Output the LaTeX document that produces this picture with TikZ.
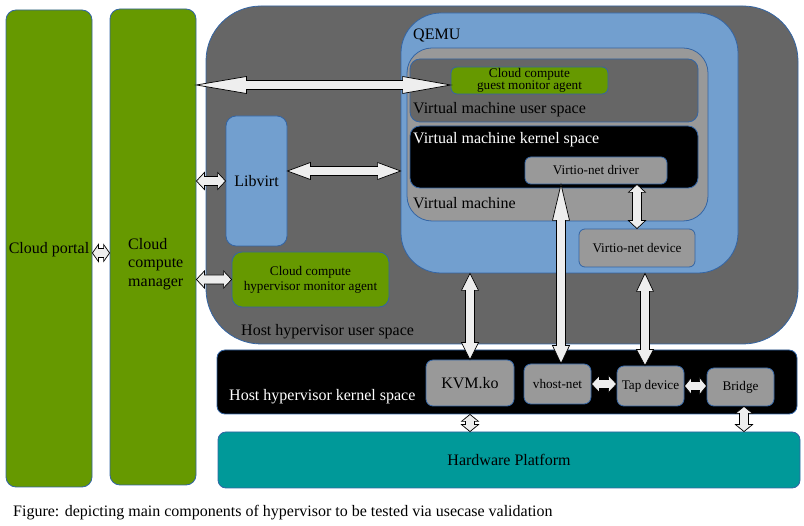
\documentclass[tikz,border=0pt]{standalone}
\usepackage{fontspec}
\setmainfont{Liberation Serif}
\usetikzlibrary{calc}

\definecolor{leaf}{HTML}{669900}
\definecolor{edgeblue}{HTML}{3465A4}
\definecolor{darkgrey}{HTML}{666666}
\definecolor{midgrey}{HTML}{999999}
\definecolor{skyblue}{HTML}{729FCF}
\definecolor{hwteal}{HTML}{009999}
\definecolor{arrowfill}{HTML}{EEEEEE}

% block arrow with two heads: from, to, head length at from, head length at to
\newcommand\dblarrow[4]{%
    \draw[blockarrow] (#1)
        -- ($($(#1)!#3pt!(#2)$)!8.5pt!90:(#2)$)
        -- ($($(#1)!#3pt!(#2)$)!4.5pt!90:(#2)$)
        -- ($($(#2)!#4pt!(#1)$)!4.5pt!-90:(#1)$)
        -- ($($(#2)!#4pt!(#1)$)!8.5pt!-90:(#1)$)
        -- (#2)
        -- ($($(#2)!#4pt!(#1)$)!8.5pt!90:(#1)$)
        -- ($($(#2)!#4pt!(#1)$)!4.5pt!90:(#1)$)
        -- ($($(#1)!#3pt!(#2)$)!4.5pt!-90:(#2)$)
        -- ($($(#1)!#3pt!(#2)$)!8.5pt!-90:(#2)$)
        -- cycle;}

\begin{document}
\begin{tikzpicture}[x=1pt, y=-1pt,
    box/.style={draw=edgeblue, line width=0.8pt, rounded corners=#1, inner sep=0pt},
    box/.default=10pt,
    lbl/.style={font=\fontsize{16}{18.5}\selectfont, inner sep=0pt},
    small/.style={font=\fontsize{13.2}{15}\selectfont, inner sep=0pt, align=center},
    blockarrow/.style={draw=black, fill=arrowfill, line width=0.7pt, line join=miter}]
    \useasboundingbox (0,0) rectangle (804,526);

    % cloud side
    \node[box, fill=leaf, minimum width=86, minimum height=477] (portal) at (49,248.5) {};
    \node[box, fill=leaf, minimum width=86, minimum height=476] (manager) at (153,247) {};

    % host user space
    \node[box=55pt, fill=darkgrey, minimum width=592, minimum height=338] (hostuser) at (502,175) {};
    \node[box=40pt, fill=skyblue, minimum width=337, minimum height=260] (qemu) at (569.5,143) {};
    \node[box=25pt, fill=midgrey, minimum width=301, minimum height=173] (vm) at (557.5,134.5) {};
    \node[box, fill=darkgrey, minimum width=288, minimum height=63] (vmuser) at (554,90.5) {};
    \node[box, fill=black, minimum width=288, minimum height=62] (vmkernel) at (554,157) {};
    \node[box=6pt, fill=leaf, small, font=\fontsize{13.2}{12}\selectfont, minimum width=157, minimum height=27] (gagent) at (529.5,80.5) {Cloud compute\\guest monitor agent};
    \node[box=6pt, fill=midgrey, small, minimum width=142, minimum height=27] (driver) at (596,170.5) {Virtio-net driver};
    \node[box=6pt, fill=midgrey, small, minimum width=116, minimum height=38] (device) at (637,248) {Virtio-net device};
    \node[box, fill=skyblue, lbl, minimum width=61, minimum height=130] (libvirt) at (256.5,181) {Libvirt};
    \node[box, fill=leaf, small, minimum width=157, minimum height=55] (hagent) at (310.5,279.5) {Cloud compute\\hypervisor monitor agent};

    % host kernel space and hardware
    \node[box=8pt, fill=black, minimum width=580, minimum height=64] (hostkernel) at (507,382) {};
    \node[box=7pt, fill=midgrey, lbl, minimum width=88, minimum height=46] (kvm) at (470,383) {KVM.ko};
    \node[box=7pt, fill=midgrey, small, minimum width=67, minimum height=40] (vhost) at (557.5,384) {vhost-net};
    \node[box=7pt, fill=midgrey, small, minimum width=67, minimum height=40] (tap) at (650.5,386) {Tap device};
    \node[box=7pt, fill=midgrey, small, minimum width=67, minimum height=38] (bridge) at (740.5,387) {Bridge};
    \node[box=8pt, fill=hwteal, lbl, minimum width=582, minimum height=56] (hardware) at (509,460) {Hardware Platform};

    % labels
    \node[lbl, anchor=base] (portallbl) at (49,254) {Cloud portal};
    \node[lbl, anchor=west, align=left] (managerlbl) at (128,264) {Cloud\\compute\\manager};
    \node[lbl, anchor=base west] (qemulbl) at (413,40) {QEMU};
    \node[lbl, anchor=base west] (vmuserlbl) at (413,114) {Virtual machine user space};
    \node[lbl, anchor=base west, text=white] (vmkernellbl) at (413,144) {Virtual machine kernel space};
    \node[lbl, anchor=base west] (vmlbl) at (413,209) {Virtual machine};
    \node[lbl, anchor=base west] (hostuserlbl) at (241,336) {Host hypervisor user space};
    \node[lbl, anchor=base west, text=white] (hostkernellbl) at (229,401) {Host hypervisor kernel space};
    \node[lbl, anchor=base west] (caption) at (13,517) {Figure: depicting main components of hypervisor to be tested via usecase validation};

    % arrow ends
    \coordinate (bigR) at ([yshift=-4.5pt]gagent.west);
    \coordinate (lvR) at ([yshift=10pt]libvirt.east);
    \coordinate (portalR) at ([yshift=-4.5pt]portal.east);
    \coordinate (vhostT) at ([xshift=3.5pt]vhost.north);
    \coordinate (tapT) at ([xshift=-5.5pt]tap.north);
    \coordinate (bridgeB) at ([xshift=3.5pt]bridge.south);

    \dblarrow{manager.east |- bigR}{bigR}{50}{48}
    \dblarrow{lvR}{qemu.west |- lvR}{23}{23}
    \dblarrow{manager.east |- libvirt.west}{libvirt.west}{8}{8}
    \dblarrow{portalR}{manager.west |- portalR}{6}{6}
    \dblarrow{manager.east |- hagent.west}{hagent.west}{8}{8}
    \dblarrow{kvm.north |- qemu.south}{kvm.north}{17}{17}
    \dblarrow{driver.south -| vhostT}{vhostT}{36}{18}
    \dblarrow{device.north |- driver.south}{device.north}{8}{8}
    \dblarrow{qemu.south -| tapT}{tapT}{18}{16}
    \dblarrow{vhost.east}{tap.west |- vhost.east}{8}{8}
    \dblarrow{tap.east}{bridge.west |- tap.east}{7}{7}
    \dblarrow{hostkernel.south -| kvm.south}{hardware.north -| kvm.south}{7}{7}
    \dblarrow{bridgeB}{hardware.north -| bridgeB}{7}{7}
\end{tikzpicture}
\end{document}
